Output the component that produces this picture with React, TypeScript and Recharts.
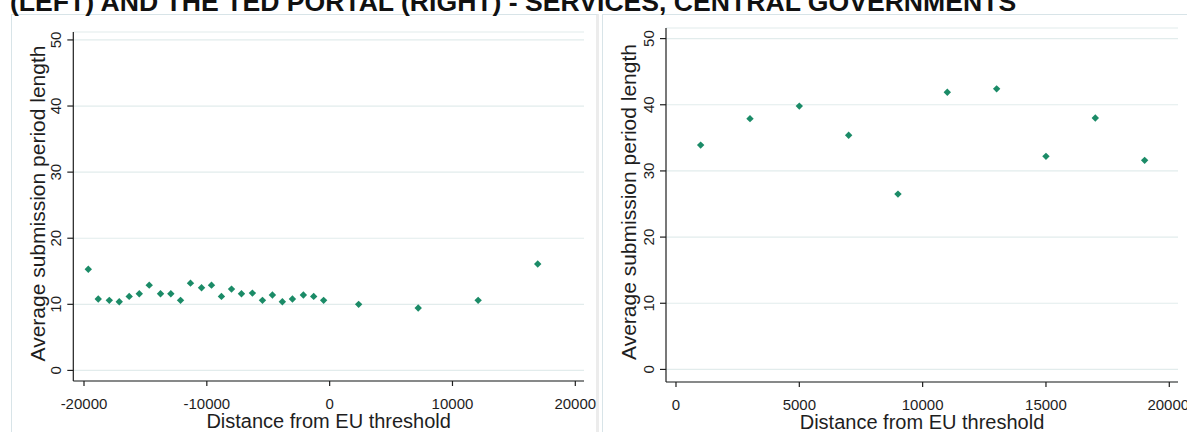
import React from 'react';
import { ScatterChart, Scatter, XAxis, YAxis, CartesianGrid, Label } from 'recharts';

const leftX = [-19650, -18840, -17940, -17130, -16320, -15500, -14690, -13770, -12930, -12140, -11330, -10430, -9620, -8810, -7990, -7180, -6290, -5470, -4660, -3850, -3030, -2140, -1300, -490, 2360, 7210, 12090, 16940];
const leftY = [15.3, 10.8, 10.6, 10.4, 11.2, 11.6, 12.9, 11.6, 11.6, 10.6, 13.2, 12.5, 12.9, 11.2, 12.3, 11.6, 11.7, 10.6, 11.4, 10.4, 10.8, 11.4, 11.2, 10.6, 10.0, 9.45, 10.6, 16.1];

const rightX = [1000, 3000, 5000, 7000, 9000, 11000, 13000, 15000, 17000, 19000];
const rightY = [33.9, 37.9, 39.8, 35.4, 26.5, 41.9, 42.4, 32.2, 38.0, 31.6];

const yTicks = [0, 10, 20, 30, 40, 50];
const leftXTicks = [-20000, -10000, 0, 10000, 20000];
const rightXTicks = [0, 5000, 10000, 15000, 20000];

const title = '(LEFT) AND THE TED PORTAL (RIGHT) - SERVICES, CENTRAL GOVERNMENTS';
const yTitle = 'Average submission period length';
const xTitle = 'Distance from EU threshold';

const GREEN = '#1b8b67';
const INK = '#1e1e1e';
const FONT = 'Arial, "Liberation Sans", sans-serif';

const Diamond = (props: any) => {
  const { cx, cy } = props;
  const r = 3.7;
  return <polygon points={`${cx},${cy - r} ${cx + r},${cy} ${cx},${cy + r} ${cx - r},${cy}`} fill={GREEN} />;
};

const YTick = (props: any) => {
  const { x, y, payload } = props;
  return (
    <text transform={`translate(${x - 6},${y}) rotate(-90)`} textAnchor="middle" fontSize={15} fill={INK} fontFamily={FONT}>
      {payload.value}
    </text>
  );
};

interface PanelProps {
  xs: number[];
  ys: number[];
  xTicks: number[];
  xDomain: [number, number];
  yDomain: [number, number];
  left: number;
  width: number;
  margin: { top: number; right: number; bottom: number; left: number };
  yLabelOffset: number;
}

function Panel({ xs, ys, xTicks, xDomain, yDomain, left, width, margin, yLabelOffset }: PanelProps) {
  const data = xs.map((x, i) => ({ x, y: ys[i] }));
  return (
    <div style={{ position: 'absolute', left, top: 0 }}>
      <ScatterChart width={width} height={432} margin={margin}>
        <CartesianGrid vertical={false} stroke="#e2ecec" strokeWidth={1.2} />
        <XAxis
          type="number"
          dataKey="x"
          domain={xDomain}
          ticks={xTicks}
          allowDataOverflow
          height={40}
          tickSize={5}
          tickMargin={12}
          stroke={INK}
          strokeWidth={1.2}
          tick={{ fontSize: 15, fill: INK, fontFamily: FONT }}
        >
          <Label
            content={(p: any) => {
              const vb = p.viewBox;
              return (
                <text x={vb.x + vb.width / 2} y={vb.y + 47} textAnchor="middle" fontSize={20} fill={INK} fontFamily={FONT}>
                  {xTitle}
                </text>
              );
            }}
          />
        </XAxis>
        <YAxis
          type="number"
          dataKey="y"
          domain={yDomain}
          ticks={yTicks}
          allowDataOverflow
          width={60}
          tickSize={6}
          tickMargin={0}
          stroke={INK}
          strokeWidth={1.2}
          tick={<YTick />}
        >
          <Label
            content={(p: any) => {
              const vb = p.viewBox;
              const bx = vb.x + vb.width - yLabelOffset;
              const cy = vb.y + vb.height / 2 - 3;
              return (
                <text transform={`translate(${bx},${cy}) rotate(-90)`} textAnchor="middle" fontSize={21} fill={INK} fontFamily={FONT}>
                  {yTitle}
                </text>
              );
            }}
          />
        </YAxis>
        <Scatter data={data} shape={<Diamond />} isAnimationActive={false} />
      </ScatterChart>
    </div>
  );
}

export default function App() {
  return (
    <div style={{ position: 'absolute', left: 0, top: 0, width: 1187, height: 432, overflow: 'hidden', background: '#fff', fontFamily: FONT }}>
      <div style={{ position: 'absolute', left: 11, top: 14, width: 584, height: 430, borderLeft: '1px solid #d8e4e8', borderTop: '1px solid #d8e4e8', borderRight: '3px solid #ececec' }} />
      <div style={{ position: 'absolute', left: 602, top: 14, width: 600, height: 430, borderLeft: '1px solid #d8e4e8', borderTop: '1px solid #d8e4e8' }} />
      <svg width={1187} height={20} style={{ position: 'absolute', left: 0, top: 0 }}>
        <text x={10} y={11} fontSize={26.6} fontWeight="bold" fill="#111" fontFamily={FONT}>
          {title}
        </text>
      </svg>
      <Panel
        xs={leftX}
        ys={leftY}
        xTicks={leftXTicks}
        xDomain={[-20871, 20708]}
        yDomain={[-1.6, 51.2]}
        left={0}
        width={600}
        margin={{ top: 32, right: 16, bottom: 11, left: 13.3 }}
        yLabelOffset={28.3}
      />
      <Panel
        xs={rightX}
        ys={rightY}
        xTicks={rightXTicks}
        xDomain={[-405, 20353]}
        yDomain={[-1.9, 51.6]}
        left={600}
        width={587}
        margin={{ top: 28, right: 9, bottom: 10, left: 6 }}
        yLabelOffset={30}
      />
    </div>
  );
}
